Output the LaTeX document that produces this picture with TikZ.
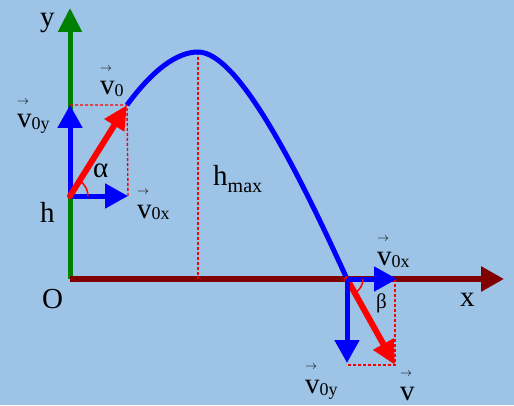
\documentclass[tikz,border=0pt]{standalone}
\usepackage{fontspec}
\setmainfont{Liberation Serif}
\usetikzlibrary{arrows.meta}
\definecolor{bgc}{RGB}{157,195,230}
\definecolor{axg}{RGB}{0,128,0}
\definecolor{axr}{RGB}{128,0,0}
\newcommand\vecv{\makebox[0pt][l]{\raisebox{23.5pt}{\scalebox{0.48}{$\rightarrow$}}}v}
\newcommand\sbs[2][-2pt]{\raisebox{#1}{\fontsize{18}{18}\selectfont #2}}
\tikzset{
  lbl/.style={inner sep=0pt, anchor=base west, font=\fontsize{29}{30}\selectfont},
  bigtip/.style={-{Triangle[length=23pt,width=24pt]}},
  redtip/.style={-{Triangle[length=24pt,width=22pt]}},
  bluevec/.style={draw=blue, fill=blue, line width=5pt, bigtip},
  redvec/.style={draw=red, fill=red, line width=6pt, line cap=round, redtip},
  dots/.style={red, line width=1.4pt, dash pattern=on 3pt off 2pt},
  anglearc/.style={red, line width=1.5pt}
}
\begin{document}
\begin{tikzpicture}[x=1pt,y=1pt]
\useasboundingbox (0,0) rectangle (514,405);
\fill[bgc] (0,0) rectangle (514,405);
% points
\coordinate (O) at (70,126);
\coordinate (Ytip) at (70,397);
\coordinate (Xtip) at (504,126);
\coordinate (L) at (70,209);
\coordinate (T) at (127,300);
\coordinate (Lx) at (128,209);
\coordinate (Ly) at (70,300);
\coordinate (A) at (198,353);
\coordinate (Aa) at (198,126);
\coordinate (G) at (347,126);
\coordinate (Gx) at (397,126);
\coordinate (Gy) at (347,42);
\coordinate (V) at (395,40);
\coordinate (Vc) at (395,126);
\coordinate (Vb) at (347,40);
% axes
\draw[axg, line width=5pt, -{Triangle[length=24pt,width=23pt]}] (O) -- (Ytip);
\draw[axr, line width=6pt, -{Triangle[length=23pt,width=24pt]}] (O) -- (Xtip);
% dotted helper lines
\draw[dots] (Ly) -- (T) -- (Lx);
\draw[dots] (A) -- (Aa);
\draw[dots] (Vc) -- (V) -- (Vb);
% trajectory
\draw[blue, line width=5pt] (T) .. controls (152.6,335) and (177,353) .. (A)
   .. controls (238,353) and (297,236) .. (G);
% vectors at launch
\draw[bluevec] (L) -- (Lx);
\draw[bluevec] (L) -- (Ly);
\draw[redvec] (L) -- (T);
% vectors at landing
\draw[redvec] (G) -- (V);
\draw[bluevec] (G) -- (Gx);
\draw[bluevec] (G) -- (Gy);
% angle arcs
\draw[anglearc] ([shift={(18pt,0)}]L) arc[start angle=0, end angle=58, radius=18pt];
\draw[anglearc] ([shift={(16pt,0)}]G) arc[start angle=0, end angle=-61, radius=16pt];
% labels
\node[lbl] (ylab) at (40,378) {y};
\node[lbl] (Olab) at (42,97) {O};
\node[lbl] (xlab) at (460,99) {x};
\node[lbl] (hlab) at (40,183) {h};
\node[lbl] (v0lab) at (100,310) {\vecv\sbs{0}};
\node[lbl] (v0ylab) at (17,277) {\vecv\sbs{0y}};
\node[lbl] (v0xlab) at (137,187) {\vecv\sbs{0x}};
\node[lbl] (hmaxlab) at (213,219) {h\sbs[-7pt]{\fontsize{20}{20}\selectfont max}};
\node[lbl] (alab) at (93,227) {α};
\node[lbl, font=\fontsize{21}{22}\selectfont] (blab) at (376,97) {β};
\node[lbl] (v0xrlab) at (377,140) {\vecv\sbs{0x}};
\node[lbl] (v0yrlab) at (305,12) {\vecv\sbs{0y}};
\node[lbl] (vlab) at (400,5) {\vecv};
\end{tikzpicture}
\end{document}
